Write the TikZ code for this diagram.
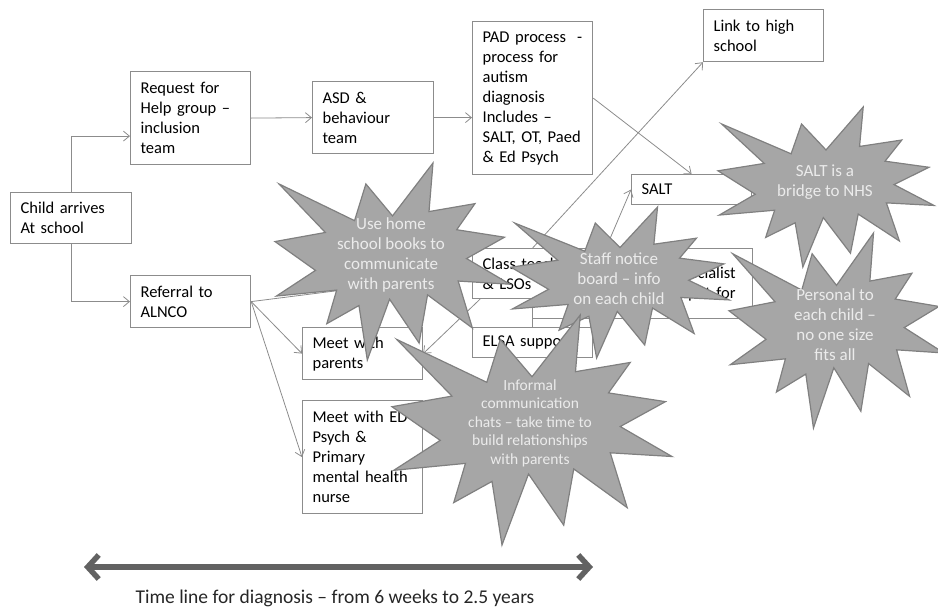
\documentclass[tikz,border=0pt]{standalone}
\usepackage{fontspec}
\setmainfont{Carlito}
\usetikzlibrary{arrows.meta,calc}
\definecolor{boxline}{HTML}{8C8C8C}
\definecolor{burstfill}{HTML}{A6A6A6}
\definecolor{burstline}{HTML}{808080}
\definecolor{bursttext}{HTML}{EBEBEB}
\definecolor{timegray}{HTML}{626262}
\tikzset{pics/explosion/.style={code={
  \draw[draw=burstline,fill=burstfill,line width=1.2pt,line join=miter]
    (500,268.5) -- (672.3,0) -- (655.3,246.5) -- (850.9,206.3) -- (773.2,338.7)
    -- (976.7,376.7) -- (815.1,485.0) -- (1000,615.3) -- (779.5,599.2)
    -- (840.0,837.7) -- (649.1,669.3) -- (613.3,913.8) -- (487.6,691.4)
    -- (392.8,1000) -- (357.2,723.5) -- (220.5,815.6) -- (262.4,645.2)
    -- (6.25,675.3) -- (172.3,545.1) -- (0,398.8) -- (214.2,352.6)
    -- (17.1,106.3) -- (338.5,292.6) -- (386.7,106.3) -- cycle;}}}
\begin{document}
\begin{tikzpicture}[x=1pt,y=-1pt,
  box/.style={draw=boxline,line width=1.2pt,fill=white,anchor=north west,
    align=left,inner xsep=10pt,inner ysep=0pt,font=\fontsize{16.5}{20}\selectfont},
  link/.style={draw=boxline,line width=0.8pt,-{Straight Barb[length=6pt,width=10pt]}},
  bursttxt/.style={text=bursttext,align=center,font=\fontsize{17}{20}\selectfont}]
\useasboundingbox (0,0) rectangle (938,613);
% boxes
\node[box,text width=101pt,minimum height=51pt] (child) at (10,192) {Child arrives\\At school};
\node[box,text width=100pt,minimum height=93pt] (request) at (130,71) {Request for\\Help group --\\inclusion\\team};
\node[box,text width=101pt,minimum height=72pt] (asd) at (312,81) {ASD \&\\behaviour\\team};
\node[box,text width=100pt,minimum height=153pt] (pad) at (472,21) {PAD process\ \ -\\process for\\autism\\diagnosis\\Includes --\\SALT, OT, Paed\\\& Ed Psych};
\node[box,text width=100pt,minimum height=52pt] (link) at (703,9) {Link to high\\school};
\node[box,text width=100pt,minimum height=30pt] (salt) at (631,174) {SALT};
\node[box,text width=100pt,minimum height=52pt] (referral) at (130,275) {Referral to\\ALNCO};
\node[box,text width=100pt,minimum height=52pt] (parents) at (302,327) {Meet with\\parents};
\node[box,text width=100pt,minimum height=113pt] (edpsych) at (302,400) {Meet with ED\\Psych \&\\Primary\\mental health\\nurse};
\node[box,text width=186pt,inner xsep=17pt,minimum height=70pt,align=right] (spec) at (532,248) {Specialist\\input for};
\node[box,text width=100pt,minimum height=50pt] (cls) at (472,248) {Class teachers\\\& LSOs};
\node[box,text width=100pt,minimum height=30pt] (elsa) at (472,327) {ELSA support};
% connectors
\draw[link] (child.north) |- ([yshift=-18pt]request.west);
\draw[link] (child.south) |- (referral.west);
\draw[link] (request.east) -- (asd.west);
\draw[link] (asd.east) -- (asd.east -| pad.west);
\draw[link] (pad.east) -- (salt.north);
\draw[link] (referral.east) -- (parents.west);
\draw[link] (referral.east) -- (edpsych.west);
\draw[link] (referral.east) -- (cls.west);
\draw[link] (cls.north) -- (link.south west);
\draw[link] ([xshift=8pt]cls.south west) -- (parents.east);
\draw[link] ([xshift=74pt]spec.north west) -- (salt.west);
\draw[draw=boxline,line width=0.8pt] (cls.south) -- (elsa.north);
% bursts
\pic[xscale=0.235,yscale=0.197] at (275,163) {explosion};
\node[bursttxt] (bhome) at (391,255) {Use home\\school books to\\communicate\\with parents};
\pic[xscale=0.218,yscale=0.151] at (511,207) {explosion};
\node[bursttxt] (bnotice) at (619,279) {Staff notice\\board -- info\\on each child};
\pic[xscale=0.216,yscale=0.160] at (718,107) {explosion};
\node[bursttxt] (bnhs) at (825,182) {SALT is a\\bridge to NHS};
\pic[xscale=0.215,yscale=0.195] at (729,233) {explosion};
\node[bursttxt] (bpersonal) at (835,325) {Personal to\\each child --\\no one size\\fits all};
\pic[xscale=0.280,yscale=0.230] at (392,315) {explosion};
\node[bursttxt,font=\fontsize{15.5}{18.5}\selectfont] (binformal) at (530,423) {Informal\\communication\\chats -- take time to\\build relationships\\with parents};
% time line
\coordinate (tleft) at (84,567);
\coordinate (tright) at (593,567);
\draw[timegray,line width=5.5pt,{Straight Barb[length=11pt,width=24pt]}-{Straight Barb[length=11pt,width=24pt]}] (tleft) -- (tright);
\node[font=\fontsize{19.5}{22}\selectfont,text=black!85] (tlabel) at (335,598) {Time line for diagnosis -- from 6 weeks to 2.5 years};
\end{tikzpicture}
\end{document}
